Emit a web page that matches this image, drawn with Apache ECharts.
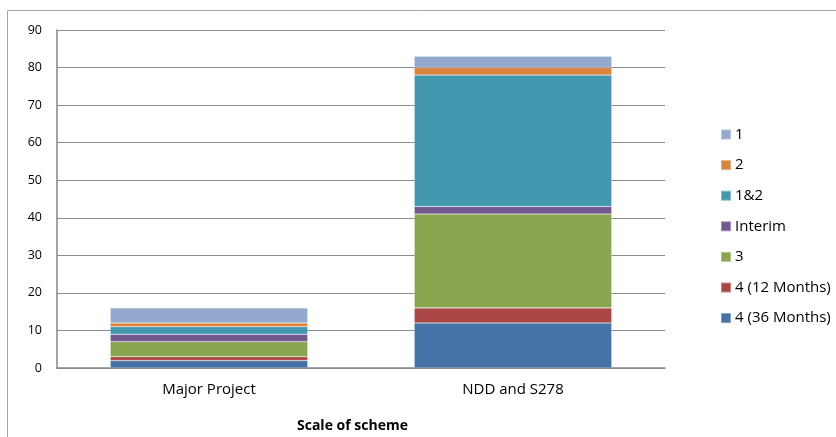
<!DOCTYPE html>
<html><head><meta charset="utf-8">
<script src="https://cdn.jsdelivr.net/npm/echarts@6/dist/echarts.min.js"></script>
<style>html,body{margin:0;padding:0;background:#fff}#c{width:836px;height:437px}</style>
</head><body><div id="c"></div>
<script>
const categories = ['Major Project', 'NDD and S278'];
const seriesNames = ['4 (36 Months)', '4 (12 Months)', '3', 'Interim', '1&2', '2', '1'];
const s36 = [2, 12];
const s12 = [1, 4];
const s3 = [4, 25];
const sInterim = [2, 2];
const s12both = [2, 35];
const s2 = [1, 2];
const s1 = [4, 3];
const yTicks = [0, 10, 20, 30, 40, 50, 60, 70, 80, 90];
const colors = ['#4572A7', '#AA4643', '#89A54E', '#71588F', '#4198AF', '#DB843D', '#93A9CF'];
const values = [s36, s12, s3, sInterim, s12both, s2, s1];
const font = '"Open Sans", sans-serif';

const chart = echarts.init(document.getElementById('c'));
chart.setOption({
  animation: false,
  textStyle: {fontFamily: font},
  grid: {left: 57, right: 171, top: 30, bottom: 69},
  graphic: [
    {type: 'rect', shape: {x: 7.5, y: 10.5, width: 840, height: 440}, style: {fill: 'none', stroke: '#a6a6a6', lineWidth: 1}},
    {type: 'text', style: {x: 297, y: 426, verticalAlign: 'middle', text: 'Scale of scheme', font: 'bold 14px ' + font, fill: '#000'}}
  ],
  legend: {
    orient: 'vertical', left: 715, top: 122,
    data: seriesNames.slice().reverse(),
    itemWidth: 10, itemHeight: 10, itemGap: 15.6, icon: 'rect',
    textStyle: {fontSize: 15, lineHeight: 15, color: '#000', fontFamily: font, padding: [0, 0, 0, -1]}
  },
  xAxis: {
    type: 'category', data: categories,
    axisLine: {lineStyle: {color: '#868686', width: 1.5}},
    axisTick: {show: false},
    axisLabel: {color: '#000', fontSize: 15, margin: 14}
  },
  yAxis: {
    type: 'value', min: 0, max: 90, interval: 10,
    axisLine: {show: true, lineStyle: {color: '#868686', width: 1.5}},
    axisTick: {show: false},
    axisLabel: {color: '#000', fontSize: 12.5, margin: 15,
      formatter: v => yTicks.includes(v) ? String(v) : ''},
    splitLine: {lineStyle: {color: '#8c8c8c', width: 1.2}}
  },
  series: seriesNames.map((n, i) => ({
    name: n, type: 'bar', stack: 'a', data: values[i], barWidth: '65%',
    itemStyle: {color: colors[i], borderColor: 'rgba(255,255,255,0.35)', borderWidth: 0.6}
  }))
});
</script></body></html>
